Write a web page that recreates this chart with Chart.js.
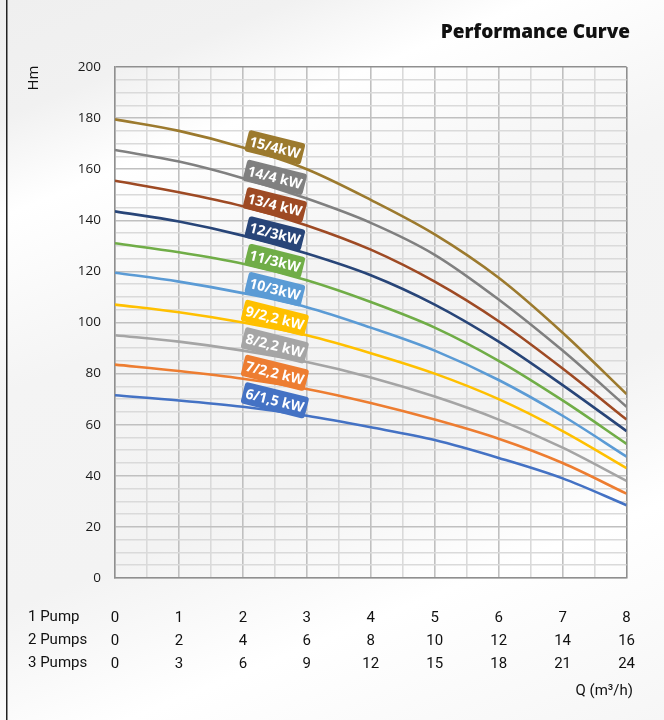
<!DOCTYPE html>
<html>
<head>
<meta charset="utf-8">
<script src="https://cdn.jsdelivr.net/npm/chart.js@4"></script>
<style>
  html, body { margin: 0; padding: 0; }
  body {
    width: 664px; height: 720px; overflow: hidden;
    background: linear-gradient(158deg, #efefef 0%, #f1f1f1 12%, #ffffff 22%, #f4f4f4 40%, #f3f3f3 62%, #ffffff 78%, #f6f6f6 100%);
  }
  #perf-chart { display: block; }
</style>
</head>
<body>
<canvas id="perf-chart" width="664" height="720"></canvas>
<script>
const flowQ = [0, 1, 2, 3, 4, 5, 6, 7, 8];
const pumpCounts = [1, 2, 3];
const pumpRowLabels = ["1 Pump", "2 Pumps", "3 Pumps"];
const headTicks = [0, 20, 40, 60, 80, 100, 120, 140, 160, 180, 200];

const seriesLabels = ["15/4kW", "14/4 kW", "13/4 kW", "12/3kW", "11/3kW", "10/3kW", "9/2,2 kW", "8/2,2 kW", "7/2,2 kW", "6/1,5 kW"];
const seriesColors = ["#9c7a2e", "#808080", "#9e4a24", "#284578", "#70ad47", "#5b9bd5", "#ffc000", "#a5a5a5", "#ed7d31", "#4472c4"];

const head15 = [179.5, 175, 168.5, 160, 148, 134.5, 117.5, 96, 72];
const head14 = [167.5, 163, 156.5, 148.5, 139, 126.5, 109, 89, 67];
const head13 = [155.5, 151, 145.5, 138, 128.5, 116, 100.5, 82, 62];
const head12 = [143.5, 139.5, 134, 127, 118.5, 107, 92.5, 75.5, 57.5];
const head11 = [131, 127.5, 123, 116.5, 108, 98, 85, 69.5, 52.5];
const head10 = [119.5, 116, 111.5, 106, 98, 89, 77.5, 63.5, 47.5];
const head9 = [107, 104, 100, 95, 88, 80, 70, 57.5, 43];
const head8 = [95, 92.5, 89, 84.5, 78.5, 71, 62, 51, 38];
const head7 = [83.5, 81, 78, 74, 68.5, 62, 54.5, 45, 33];
const head6 = [71.5, 69.5, 67, 63.5, 59, 54, 47, 39, 28.5];

const allHeads = [head15, head14, head13, head12, head11, head10, head9, head8, head7, head6];
const labelAtQ = 2.5;

const tickFont = "'Liberation Sans Narrow', 'Roboto', sans-serif";

function headAt(values, q) {
  for (let i = 0; i < flowQ.length - 1; i++) {
    if (q >= flowQ[i] && q <= flowQ[i + 1]) {
      const t = (q - flowQ[i]) / (flowQ[i + 1] - flowQ[i]);
      return values[i] + t * (values[i + 1] - values[i]);
    }
  }
  return values[values.length - 1];
}

const extraText = {
  id: "extraText",
  beforeDraw(chart) {
    const ctx = chart.ctx;
    ctx.save();
    ctx.fillStyle = "#222";
    ctx.fillRect(6, 0, 1.5, 720);
    ctx.restore();
  },
  afterDatasetsDraw(chart) {
    const ctx = chart.ctx;
    const xs = chart.scales.x, ys = chart.scales.y;
    ctx.save();
    // curve labels
    chart.data.datasets.forEach((ds, i) => {
      const px = xs.getPixelForValue(labelAtQ);
      const py = ys.getPixelForValue(headAt(allHeads[i], labelAtQ)) - 11;
      ctx.save();
      ctx.translate(px, py);
      ctx.rotate(14 * Math.PI / 180);
      ctx.font = "bold 14px 'Open Sans', sans-serif";
      const w = Math.max(ctx.measureText(ds.label).width + 6, 58);
      const h = 22;
      ctx.fillStyle = ds.borderColor;
      ctx.beginPath();
      ctx.roundRect(-w / 2, -h / 2, w, h, 3);
      ctx.fill();
      ctx.fillStyle = "#fff";
      ctx.textAlign = "center";
      ctx.textBaseline = "middle";
      ctx.fillText(ds.label, 0, 1);
      ctx.restore();
    });
    ctx.restore();
  },
  afterDraw(chart) {
    const ctx = chart.ctx;
    const area = chart.chartArea;
    ctx.save();
    ctx.fillStyle = "#111";
    ctx.font = "800 19px 'Open Sans', sans-serif";
    ctx.textAlign = "right";
    ctx.textBaseline = "middle";
    ctx.fillText("Performance Curve", 630, 33);

    ctx.font = "15px " + tickFont;
    ctx.textAlign = "left";
    pumpRowLabels.forEach((txt, i) => {
      ctx.fillText(txt, 28, area.bottom + 39 + i * 23);
    });
    ctx.textAlign = "right";
    ctx.fillText("Q (m\u00b3/h)", 633, 691);

    ctx.translate(34, 78);
    ctx.rotate(-Math.PI / 2);
    ctx.textAlign = "center";
    ctx.font = "15px 'Open Sans', sans-serif";
    ctx.fillText("Hm", 0, 0);
    ctx.restore();
  }
};

const datasets = allHeads.map((values, i) => ({
  label: seriesLabels[i],
  data: flowQ.map((q, j) => ({x: q, y: values[j]})),
  borderColor: seriesColors[i],
  backgroundColor: seriesColors[i],
  borderWidth: 2.6,
  pointRadius: 0,
  cubicInterpolationMode: "monotone",
  fill: false
}));

function gridColor(ctx, majorStep, maxValue) {
  const v = ctx.tick ? ctx.tick.value : 0;
  if (v === maxValue) return "#8f8f8f";
  return v % majorStep === 0 ? "#c0c0c0" : "#dadada";
}

new Chart(document.getElementById("perf-chart").getContext("2d"), {
  type: "line",
  data: {datasets: datasets},
  options: {
    responsive: false,
    animation: false,
    layout: {padding: {top: 67, right: 37, left: 0, bottom: 0}},
    plugins: {
      legend: {display: false},
      tooltip: {enabled: false}
    },
    scales: {
      x: {
        type: "linear",
        min: 0,
        max: 8,
        afterFit: scale => { scale.height = 142; },
        border: {color: "#8f8f8f", width: 1.5},
        grid: {
          color: ctx => gridColor(ctx, 1, 8),
          lineWidth: 1.6,
          drawTicks: false
        },
        ticks: {
          stepSize: 0.5,
          autoSkip: false,
          maxRotation: 0,
          padding: 29,
          color: "#111",
          font: {family: tickFont, size: 15, lineHeight: 1.53},
          callback: v => (v % 1 === 0 ? pumpCounts.map(n => String(v * n)) : "")
        }
      },
      y: {
        min: 0,
        max: 200,
        afterFit: scale => { scale.width = 115; },
        border: {color: "#8f8f8f", width: 1.5},
        grid: {
          color: ctx => gridColor(ctx, 20, 200),
          lineWidth: 1.6,
          drawTicks: false
        },
        ticks: {
          stepSize: 5,
          autoSkip: false,
          padding: 14,
          color: "#1a1a1a",
          font: {family: "'Open Sans', sans-serif", size: 13.5},
          callback: v => (headTicks.includes(v) ? String(v) : "")
        }
      }
    }
  },
  plugins: [extraText]
});
</script>
</body>
</html>
